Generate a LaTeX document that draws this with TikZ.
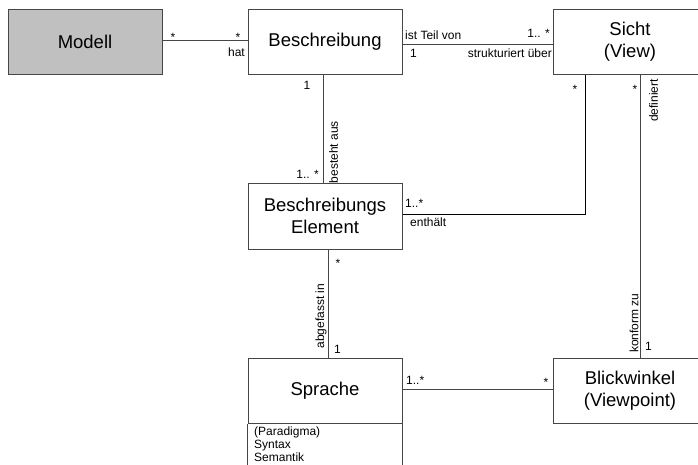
\documentclass[tikz,border=0pt]{standalone}
\usepackage{fontspec}
\setmainfont{Liberation Sans}
\definecolor{linegray}{RGB}{70,70,70}
\definecolor{modellgray}{RGB}{192,192,192}
\usetikzlibrary{positioning}

\begin{document}
\begin{tikzpicture}[x=1pt, y=-1pt,
  klasse/.style={draw=linegray, line width=1pt, minimum width=154pt, minimum height=65pt, inner sep=0pt, align=center, font=\fontsize{18.5}{22}\selectfont},
  rolle/.style={inner sep=0pt, font=\fontsize{12}{13}\selectfont},
  assoz/.style={draw=linegray, line width=1pt}]
  \useasboundingbox (0,0) rectangle (698,464);

  % Classes
  \node[klasse, fill=modellgray] (modell) at (85,41.5) {Modell};
  \node[klasse] (beschr) at (325,41.5) {Beschreibung};
  \node[klasse] (sicht) at (630,41.5) {Sicht\\(View)};
  \node[klasse, minimum height=66pt] (belem) at (325,216) {Beschreibungs\\Element};
  \node[klasse] (sprache) at (325,391) {Sprache};
  \node[klasse] (blick) at (630,391) {Blickwinkel\\(Viewpoint)};

  % Attributes of Sprache
  \draw[assoz] (sprache.south west) -- ++(0,60);
  \draw[assoz] (sprache.south east) -- ++(0,60);
  \node[rolle, anchor=north west, align=left] (attr) at (254,426.5) {(Paradigma)\\Syntax\\Semantik};

  % Associations
  \draw[assoz] ([yshift=1.5pt]modell.east) -- ([yshift=1.5pt]beschr.west);
  \draw[assoz] ([yshift=-2.5pt]beschr.east) -- ([yshift=-2.5pt]sicht.west);
  \draw[assoz] ([xshift=-2pt]beschr.south) -- ([xshift=-2pt]belem.north);
  \draw[assoz, draw=black] ([yshift=2pt]belem.east) -| ([xshift=-45pt]sicht.south);
  \draw[assoz] ([xshift=10pt]sicht.south) -- ([xshift=10pt]blick.north);
  \draw[assoz] ([xshift=3pt]belem.south) -- ([xshift=3pt]sprache.north);
  \draw[assoz] ([yshift=2pt]sprache.east) -- ([yshift=2pt]blick.west);

  % Roles and multiplicities
  \node[rolle, anchor=base] (m1) at (173,41) {*};
  \node[rolle, anchor=base] (m2) at (238,41) {*};
  \node[rolle, anchor=base east] (hat) at (245,56.5) {hat};

  \node[rolle, anchor=base west] (teil) at (405,39) {ist Teil von};
  \node[rolle, anchor=base east] (m3) at (550,37) {1.. *};
  \node[rolle, anchor=base west] (m4) at (410,57) {1};
  \node[rolle, anchor=base east] (strukt) at (552,57) {strukturiert über};

  \node[rolle, anchor=base] (m5) at (307,89) {1};
  \node[rolle, anchor=base east] (m6) at (319,178) {1.. *};
  \node[rolle, rotate=90] (besteht) at (333.5,152) {besteht aus};

  \node[rolle, anchor=base west] (m7) at (405,207) {1..*};
  \node[rolle, anchor=base west] (enth) at (410,226) {enthält};
  \node[rolle, anchor=base] (m8) at (575,93) {*};

  \node[rolle, anchor=base] (m9) at (635,93) {*};
  \node[rolle, rotate=90] (def) at (653.5,100.5) {definiert};
  \node[rolle, rotate=90] (konf) at (634,323) {konform zu};
  \node[rolle, anchor=base west] (m10) at (645,350) {1};

  \node[rolle, anchor=base] (m11) at (338,267) {*};
  \node[rolle, rotate=90] (abgef) at (321,316) {abgefasst in};
  \node[rolle, anchor=base west] (m12) at (334,353) {1};

  \node[rolle, anchor=base west] (m13) at (406,384) {1..*};
  \node[rolle, anchor=base] (m14) at (546,386) {*};
\end{tikzpicture}
\end{document}
